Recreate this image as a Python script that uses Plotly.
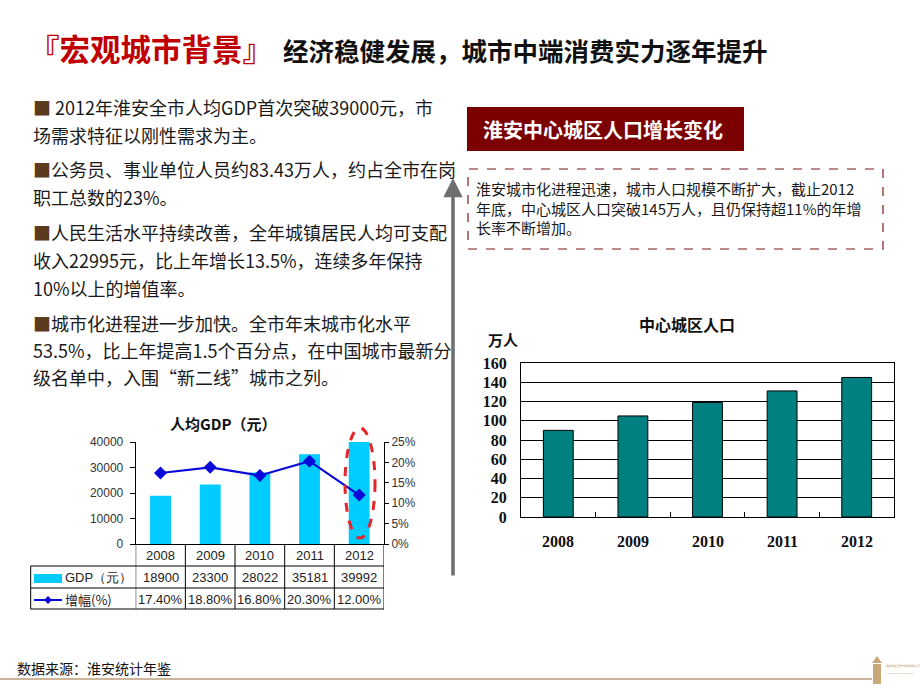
import plotly.graph_objects as go

# ---------------- data ----------------
years = ["2008", "2009", "2010", "2011", "2012"]
gdp = [18900, 23300, 28022, 35181, 39992]
gdp_growth = [0.174, 0.188, 0.168, 0.203, 0.120]
gdp_text = ["18900", "23300", "28022", "35181", "39992"]
growth_text = ["17.40%", "18.80%", "16.80%", "20.30%", "12.00%"]
population = [90, 105, 119, 131, 145]

left_lines = [
    "<span style='color:#5C3A1E'>■</span> 2012年淮安全市人均GDP首次突破39000元，市",
    "场需求特征以刚性需求为主。",
    "<span style='color:#5C3A1E'>■</span>公务员、事业单位人员约83.43万人，约占全市在岗",
    "职工总数的23%。",
    "<span style='color:#5C3A1E'>■</span>人民生活水平持续改善，全年城镇居民人均可支配",
    "收入22995元，比上年增长13.5%，连续多年保持",
    "10%以上的增值率。",
    "<span style='color:#5C3A1E'>■</span>城市化进程进一步加快。全市年末城市化水平",
    "53.5%，比上年提高1.5个百分点，在中国城市最新分",
    "级名单中，入围“新二线”城市之列。",
]
left_line_y = [107, 135, 169, 197, 232, 260, 288, 323, 350, 377]

box_lines = [
    "淮安城市化进程迅速，城市人口规模不断扩大，截止2012",
    "年底，中心城区人口突破145万人，且仍保持超11%的年增",
    "长率不断增加。",
]

W, H = 920, 690


def px(x):
    return x / W


def py(y):
    return 1 - y / H


CJK = "Noto Sans CJK SC"
ARIAL = "Liberation Sans"
SERIF = "Liberation Serif"

fig = go.Figure()

# ---- GDP chart ----
fig.add_trace(go.Bar(x=years, y=gdp, marker=dict(color="#00CCFF", line=dict(width=0)),
                     width=0.42, xaxis="x", yaxis="y", showlegend=False))
fig.add_trace(go.Scatter(x=years, y=gdp_growth, mode="lines+markers",
                         line=dict(color="#0A0AD8", width=2.2),
                         marker=dict(symbol="diamond", size=10, color="#0A0AD8"),
                         xaxis="x", yaxis="y2", showlegend=False))

# ---- Population chart ----
fig.add_trace(go.Bar(x=years, y=population, marker=dict(color="#008080", line=dict(color="black", width=1)),
                     width=0.4, xaxis="x3", yaxis="y3", showlegend=False))

gx0, gx1, gy0, gy1 = 135.7, 384, 442, 544
rx0, rx1, ry0, ry1 = 521, 894, 363, 517

fig.update_layout(
    width=W, height=H,
    margin=dict(l=0, r=0, t=0, b=0, autoexpand=False),
    paper_bgcolor="white", plot_bgcolor="white",
    font=dict(family=CJK, color="#222"),
    xaxis=dict(domain=[px(gx0), px(gx1)], anchor="y", range=[-0.5, 4.5], type="category",
               showticklabels=False, ticks="", showline=True, linecolor="black", linewidth=1,
               showgrid=False, zeroline=False, automargin=False),
    yaxis=dict(domain=[py(gy1), py(gy0)], anchor="x", range=[0, 40000], dtick=10000,
               tickformat="d", automargin=False,
               showline=True, linecolor="black", linewidth=1, ticks="outside", ticklen=5,
               tickcolor="black", showgrid=False, zeroline=False,
               tickfont=dict(family=ARIAL, size=12, color="#333"), ticklabelstandoff=4),
    yaxis2=dict(overlaying="y", side="right", anchor="x", range=[0, 0.25], dtick=0.05,
                tickformat=".0%", showline=True, linecolor="black", linewidth=1, automargin=False,
                ticks="outside", ticklen=4, tickcolor="black", showgrid=False, zeroline=False,
                tickfont=dict(family=ARIAL, size=12, color="#333")),
    xaxis3=dict(domain=[px(rx0), px(rx1)], anchor="y3", range=[-0.5, 4.5], type="category",
                showticklabels=False, tickson="boundaries", ticks="inside", ticklen=5,
                tickcolor="black", showline=True, mirror=True, linecolor="black", linewidth=1.2,
                showgrid=False, zeroline=False, automargin=False),
    yaxis3=dict(domain=[py(ry1), py(ry0)], anchor="x3", range=[0, 160], dtick=20,
                showline=True, mirror=True, linecolor="black", linewidth=1.2, automargin=False,
                showgrid=True, gridcolor="black", gridwidth=1, zeroline=False, ticks="",
                tickfont=dict(family=SERIF, size=16, color="#111", weight="bold"),
                ticklabelstandoff=10),
)

shapes = []
ann = []

# ---- Title ----
ann.append(dict(x=px(27), y=py(48), xref="paper", yref="paper", xanchor="left", yanchor="middle",
                text="『宏观城市背景』", showarrow=False,
                font=dict(family=CJK, size=30.5, color="#C00000", weight="bold")))
ann.append(dict(x=px(281), y=py(50), xref="paper", yref="paper", xanchor="left", yanchor="middle",
                text="经济稳健发展，城市中端消费实力逐年提升", showarrow=False,
                font=dict(family=CJK, size=25.5, color="#111", weight="bold")))

# ---- Left paragraph ----
for t, yy in zip(left_lines, left_line_y):
    ann.append(dict(x=px(31), y=py(yy), xref="paper", yref="paper", xanchor="left", yanchor="middle",
                    text=t, showarrow=False, font=dict(family=CJK, size=18, color="#1a1a1a")))

# ---- Vertical arrow ----
ann.append(dict(x=px(453), y=py(178), xref="paper", yref="paper", ax=0, ay=399,
                text="", showarrow=True, arrowhead=2, arrowsize=1.1, arrowwidth=3.5,
                arrowcolor="#6E6E6E"))

# ---- Header box ----
shapes.append(dict(type="rect", xref="paper", yref="paper", x0=px(467), x1=px(744),
                   y0=py(151), y1=py(107), fillcolor="#7B0000", line=dict(width=0)))
ann.append(dict(x=px(603), y=py(130), xref="paper", yref="paper", xanchor="center", yanchor="middle",
                text="淮安中心城区人口增长变化", showarrow=False,
                font=dict(family=CJK, size=20, color="white", weight="bold")))

# ---- Dashed text box ----
shapes.append(dict(type="rect", xref="paper", yref="paper", x0=px(468), x1=px(883),
                   y0=py(249), y1=py(169), line=dict(color="#7B1A1A", width=1.2, dash="dash")))
ann.append(dict(x=px(474), y=py(208.5), xref="paper", yref="paper", xanchor="left", yanchor="middle",
                align="left", text="<br>".join(box_lines), showarrow=False,
                font=dict(family=CJK, size=15, color="#1a1a1a")))

# ---- GDP chart title ----
ann.append(dict(x=px(223), y=py(423), xref="paper", yref="paper", xanchor="center", yanchor="middle",
                text="人均GDP（元）", showarrow=False,
                font=dict(family=CJK, size=15, color="#111", weight="bold")))

# ---- GDP data table ----
t_row = [544, 566, 588, 609]
tl = 30.7
for yy in t_row[1:]:
    shapes.append(dict(type="line", xref="paper", yref="paper", x0=px(tl), x1=px(gx1),
                       y0=py(yy), y1=py(yy), line=dict(color="black", width=1)))
shapes.append(dict(type="line", xref="paper", yref="paper", x0=px(tl), x1=px(tl),
                   y0=py(t_row[1]), y1=py(t_row[3]), line=dict(color="black", width=1)))
for i in range(6):
    shapes.append(dict(type="line", xref="x", yref="paper", x0=i - 0.5, x1=i - 0.5,
                       y0=py(t_row[0]), y1=py(t_row[3]), line=dict(color="black", width=1)))
for i, yv in enumerate(years):
    ann.append(dict(x=i, y=py(555), xref="x", yref="paper", text=yv, showarrow=False,
                    xanchor="center", yanchor="middle", font=dict(family=ARIAL, size=13, color="#222")))
    ann.append(dict(x=i, y=py(577), xref="x", yref="paper", text=gdp_text[i], showarrow=False,
                    xanchor="center", yanchor="middle", font=dict(family=ARIAL, size=13, color="#222")))
    ann.append(dict(x=i, y=py(599), xref="x", yref="paper", text=growth_text[i], showarrow=False,
                    xanchor="center", yanchor="middle", font=dict(family=ARIAL, size=13, color="#222")))
# legend keys in table
shapes.append(dict(type="rect", xref="paper", yref="paper", x0=px(34), x1=px(62), y0=py(583),
                   y1=py(574), fillcolor="#00CCFF", line=dict(width=0)))
ann.append(dict(x=px(63), y=py(577), xref="paper", yref="paper", xanchor="left", yanchor="middle",
                text="GDP（元）", showarrow=False, font=dict(family=ARIAL, size=13, color="#222")))
shapes.append(dict(type="line", xref="paper", yref="paper", x0=px(34), x1=px(62), y0=py(600),
                   y1=py(600), line=dict(color="#0A0AD8", width=2)))
shapes.append(dict(type="path", xref="paper", yref="paper",
                   path=f"M {px(48)},{py(596)} L {px(52)},{py(600)} L {px(48)},{py(604)} L {px(44)},{py(600)} Z",
                   fillcolor="#0A0AD8", line=dict(width=0)))
ann.append(dict(x=px(63), y=py(599), xref="paper", yref="paper", xanchor="left", yanchor="middle",
                text="增幅(%)", showarrow=False, font=dict(family=CJK, size=13, color="#222")))

# red dashed ellipse on 2012
shapes.append(dict(type="circle", xref="paper", yref="paper", x0=px(345), x1=px(375),
                   y0=py(538), y1=py(428), line=dict(color="#E3262A", width=3, dash="dash")))

# ---- Population chart labels ----
ann.append(dict(x=px(687), y=py(324), xref="paper", yref="paper", xanchor="center", yanchor="middle",
                text="中心城区人口", showarrow=False,
                font=dict(family=CJK, size=16, color="#111", weight="bold")))
ann.append(dict(x=px(503), y=py(339), xref="paper", yref="paper", xanchor="center", yanchor="middle",
                text="万人", showarrow=False,
                font=dict(family=CJK, size=15, color="#111", weight="bold")))
for i, yv in enumerate(years):
    ann.append(dict(x=i, y=py(541), xref="x3", yref="paper", text=yv, showarrow=False,
                    xanchor="center", yanchor="middle",
                    font=dict(family=SERIF, size=16, color="#111", weight="bold")))

# ---- Footer ----
ann.append(dict(x=px(15), y=py(668), xref="paper", yref="paper", xanchor="left", yanchor="middle",
                text="数据来源：淮安统计年鉴", showarrow=False,
                font=dict(family=CJK, size=14, color="#111")))
shapes.append(dict(type="line", xref="paper", yref="paper", x0=0, x1=px(872), y0=py(679), y1=py(679),
                   line=dict(color="#CDB59C", width=2)))
# logo
shapes.append(dict(type="path", xref="paper", yref="paper",
                   path=(f"M {px(872)},{py(663)} L {px(877)},{py(656)} L {px(882)},{py(663)} Z "
                         f"M {px(873)},{py(664)} L {px(881)},{py(664)} L {px(881)},{py(684)} L {px(873)},{py(684)} Z"),
                   fillcolor="#C8A878", line=dict(width=0)))
ann.append(dict(x=px(884), y=py(666), xref="paper", yref="paper", xanchor="left", yanchor="middle",
                text="淮安市金居地产顾问有限公司", showarrow=False,
                font=dict(family=CJK, size=2.6, color="#B8955F")))
ann.append(dict(x=px(884), y=py(673), xref="paper", yref="paper", xanchor="left", yanchor="middle",
                text="Huaian Jinju real estate consultants ltd.", showarrow=False,
                font=dict(family=ARIAL, size=1.6, color="#C8A878")))

fig.update_layout(shapes=shapes, annotations=ann)
fig.write_html("out.html", config={"displayModeBar": False},
               post_script="document.body.style.margin='0px';document.body.style.overflow='hidden';")
